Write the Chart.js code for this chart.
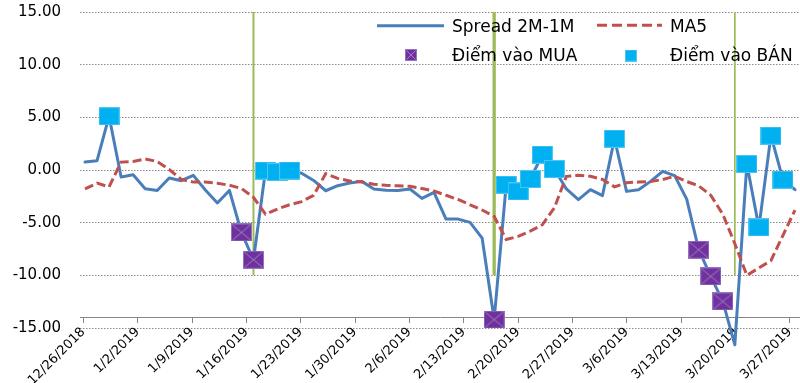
<!DOCTYPE html>
<html>
<head>
<meta charset="utf-8">
<script src="https://cdn.jsdelivr.net/npm/chart.js@4/dist/chart.umd.min.js"></script>
<style>
  html, body { margin: 0; padding: 0; background: #ffffff; }
  #wrap { width: 800px; height: 383px; position: relative; }
</style>
</head>
<body>
<div id="wrap"><canvas id="spreadChart" width="800" height="383"></canvas></div>
<script>
// Trading sessions (one point per session)
const tradingDays = [
  '12/26/2018','12/27/2018','12/28/2018','12/31/2018',
  '1/2/2019','1/3/2019','1/4/2019','1/7/2019','1/8/2019','1/9/2019','1/10/2019','1/11/2019',
  '1/14/2019','1/15/2019','1/16/2019','1/17/2019','1/18/2019','1/21/2019','1/22/2019','1/23/2019',
  '1/24/2019','1/25/2019','1/28/2019','1/29/2019','1/30/2019','1/31/2019','2/1/2019',
  '2/11/2019','2/12/2019','2/13/2019','2/14/2019','2/15/2019','2/18/2019','2/19/2019','2/20/2019',
  '2/21/2019','2/22/2019','2/25/2019','2/26/2019','2/27/2019','2/28/2019','3/1/2019',
  '3/4/2019','3/5/2019','3/6/2019','3/7/2019','3/8/2019','3/11/2019','3/12/2019','3/13/2019',
  '3/14/2019','3/15/2019','3/18/2019','3/19/2019','3/20/2019','3/21/2019','3/22/2019',
  '3/25/2019','3/26/2019','3/27/2019'
];

// Weekly labels on the horizontal axis
const weekLabels = [
  '12/26/2018','1/2/2019','1/9/2019','1/16/2019','1/23/2019','1/30/2019','2/6/2019',
  '2/13/2019','2/20/2019','2/27/2019','3/6/2019','3/13/2019','3/20/2019','3/27/2019'
];

// Spread 2M-1M
const spread = [
  0.76, 0.88, 5.10, -0.66, -0.45, -1.78, -1.94, -0.76, -1.02, -0.51,
  -1.90, -3.13, -1.94, -5.93, -8.52, -0.05, -0.20, -0.05, -0.30, -0.99,
  -1.97, -1.49, -1.24, -1.08, -1.80, -1.93, -1.94, -1.80, -2.70, -2.12,
  -4.66, -4.66, -4.97, -6.46, -14.20, -1.40, -2.03, -0.86, 1.45, 0.09,
  -1.80, -2.82, -1.87, -2.44, 2.97, -2.03, -1.87, -1.08, -0.13, -0.54,
  -2.76, -7.57, -10.10, -12.48, -16.60, 0.57, -5.45, 3.26, -0.92, -1.87
];

// MA5
const ma5 = [
  -1.80, -1.25, -1.60, 0.75, 0.80, 1.05, 0.80, 0.05, -0.90, -1.15,
  -1.15, -1.25, -1.45, -1.75, -2.60, -4.20, -3.70, -3.30, -3.00, -2.40,
  -0.35, -0.80, -1.05, -1.15, -1.35, -1.45, -1.50, -1.55, -1.75, -2.00,
  -2.40, -2.80, -3.30, -3.80, -4.40, -6.60, -6.30, -5.80, -5.20, -3.60,
  -0.60, -0.50, -0.60, -0.90, -1.60, -1.20, -1.15, -1.10, -0.90, -0.60,
  -1.10, -1.50, -2.40, -4.20, -7.00, -10.00, -9.30, -8.60, -6.20, -3.80
];

// Entry signals
const buyDates = ['1/15/2019','1/16/2019','2/20/2019','3/15/2019','3/18/2019','3/19/2019'];
const sellDates = ['12/28/2018','1/17/2019','1/18/2019','1/21/2019','2/21/2019','2/22/2019',
  '2/25/2019','2/26/2019','2/27/2019','3/6/2019','3/21/2019','3/22/2019','3/25/2019','3/26/2019'];

// Expiry markers (vertical lines) and their value span
const expiryDates = ['1/16/2019','2/20/2019','3/20/2019'];
const expiryLow = -10;
const expiryHigh = 15;

// Value axis
const yMin = -15, yMax = 15, yStep = 5, xAxisCross = -14;

const idx = d => tradingDays.indexOf(d);
const seriesPoints = arr => arr.map((y, i) => ({ x: i, y }));
const signalPoints = dates => dates.map(d => ({ x: idx(d), y: spread[idx(d)] }));
const expiryPoints = expiryDates.flatMap(d => [
  { x: idx(d), y: expiryLow }, { x: idx(d), y: expiryHigh }, { x: idx(d), y: null }
]);

// Square marker bitmaps used as point styles
function markerImage(w, h, fill, edge, cross) {
  const c = document.createElement('canvas');
  c.width = w; c.height = h;
  const g = c.getContext('2d');
  g.fillStyle = fill;
  g.fillRect(0, 0, w, h);
  g.strokeStyle = edge;
  g.lineWidth = 1;
  g.strokeRect(0.5, 0.5, w - 1, h - 1);
  if (cross) {
    g.strokeStyle = cross;
    g.beginPath();
    g.moveTo(1.5, 1.5); g.lineTo(w - 1.5, h - 1.5);
    g.moveTo(w - 1.5, 1.5); g.lineTo(1.5, h - 1.5);
    g.stroke();
  }
  return c;
}
const buyMarker = markerImage(21, 18, '#7030a0', '#9275c0', '#9a86b4');
const sellMarker = markerImage(21, 18, '#00b0f0', '#4cc6f3', null);
const buyLegendMarker = markerImage(12, 12, '#7030a0', '#9275c0', '#9a86b4');
const sellLegendMarker = markerImage(12, 12, '#00b0f0', '#4cc6f3', null);

const FONT = '"DejaVu Sans", "Open Sans", sans-serif';

// Two-column legend drawn inside the plot area
const cornerLegend = {
  id: 'cornerLegend',
  afterDraw(chart) {
    const ctx = chart.ctx;
    ctx.save();
    ctx.font = '17px ' + FONT;
    ctx.fillStyle = '#000000';
    ctx.textBaseline = 'alphabetic';
    ctx.textAlign = 'left';

    // row 1: line series
    ctx.lineWidth = 3;
    ctx.strokeStyle = '#4a7ebb';
    ctx.beginPath(); ctx.moveTo(377, 25.7); ctx.lineTo(444, 25.7); ctx.stroke();
    ctx.fillText(chart.data.datasets[3].label, 452, 32.3);

    ctx.strokeStyle = '#c0504d';
    ctx.setLineDash([10, 5]);
    ctx.beginPath(); ctx.moveTo(597, 25.3); ctx.lineTo(662, 25.3); ctx.stroke();
    ctx.setLineDash([]);
    ctx.fillText(chart.data.datasets[2].label, 670, 32.3);

    // row 2: signal markers
    ctx.drawImage(buyLegendMarker, 405, 49);
    ctx.fillText(chart.data.datasets[0].label, 452, 61);
    ctx.drawImage(sellLegendMarker, 625, 49.5);
    ctx.fillText(chart.data.datasets[1].label, 670, 61);
    ctx.restore();
  }
};

// Session-index range spanned by the plot area, and weekly tick placement
const xMin = -0.4155, xMax = 59.415;
const weekTickFirst = -0.141, weekTickStep = 4.5164;

new Chart(document.getElementById('spreadChart'), {
  type: 'line',
  data: {
    datasets: [
      {
        label: 'Điểm vào MUA',
        data: signalPoints(buyDates),
        showLine: false,
        pointStyle: buyMarker,
        pointRadius: 10,
        order: 0
      },
      {
        label: 'Điểm vào BÁN',
        data: signalPoints(sellDates),
        showLine: false,
        pointStyle: sellMarker,
        pointRadius: 10,
        order: 1
      },
      {
        label: 'MA5',
        data: seriesPoints(ma5),
        borderColor: '#c0504d',
        borderWidth: 3,
        borderDash: [9, 4],
        pointRadius: 0,
        tension: 0,
        fill: false,
        order: 2
      },
      {
        label: 'Spread 2M-1M',
        data: seriesPoints(spread),
        borderColor: '#4a7ebb',
        borderWidth: 3,
        borderJoinStyle: 'round',
        borderCapStyle: 'round',
        pointRadius: 0,
        tension: 0,
        fill: false,
        clip: false,
        order: 3
      },
      {
        label: 'expiry',
        data: expiryPoints,
        borderColor: '#9bbb59',
        borderWidth: 2,
        segment: {
          borderWidth: ctx => (ctx.p0DataIndex === 3 ? 3.3 : (ctx.p0DataIndex === 6 ? 1.7 : 2))
        },
        spanGaps: false,
        pointRadius: 0,
        fill: false,
        order: 4
      }
    ]
  },
  options: {
    responsive: false,
    animation: false,
    devicePixelRatio: 1,
    layout: { autoPadding: false, padding: { top: 12, bottom: 55, left: 0, right: 0 } },
    plugins: {
      legend: { display: false },
      tooltip: { enabled: false }
    },
    scales: {
      x: {
        type: 'linear',
        position: { y: xAxisCross },
        min: xMin,
        max: xMax,
        bounds: 'data',
        afterBuildTicks: scale => {
          scale.ticks = weekLabels.map((l, k) => ({ value: weekTickFirst + k * weekTickStep }));
        },
        afterFit: scale => {
          scale.paddingLeft = 0; scale.paddingRight = 0;
          scale.paddingTop = 0; scale.paddingBottom = 0;
        },
        ticks: {
          autoSkip: false,
          minRotation: 45,
          maxRotation: 45,
          padding: 2,
          color: '#000000',
          font: { family: FONT, size: 13 },
          callback: (v, i) => weekLabels[i]
        },
        grid: {
          drawOnChartArea: false,
          drawTicks: true,
          tickLength: 5,
          color: '#868686'
        },
        border: { display: true, color: '#868686', width: 1 }
      },
      y: {
        min: yMin,
        max: yMax,
        afterFit: scale => {
          scale.width = 80;
          scale.paddingTop = 0; scale.paddingBottom = 0;
          scale.paddingLeft = 0; scale.paddingRight = 0;
        },
        ticks: {
          stepSize: yStep,
          padding: 19,
          color: '#000000',
          font: { family: FONT, size: 15 },
          callback: v => v.toFixed(2)
        },
        grid: { color: '#8a8a8a', lineWidth: 1, drawTicks: false },
        border: { display: false, dash: [1.5, 1.5] }
      }
    }
  },
  plugins: [cornerLegend]
});
</script>
</body>
</html>
